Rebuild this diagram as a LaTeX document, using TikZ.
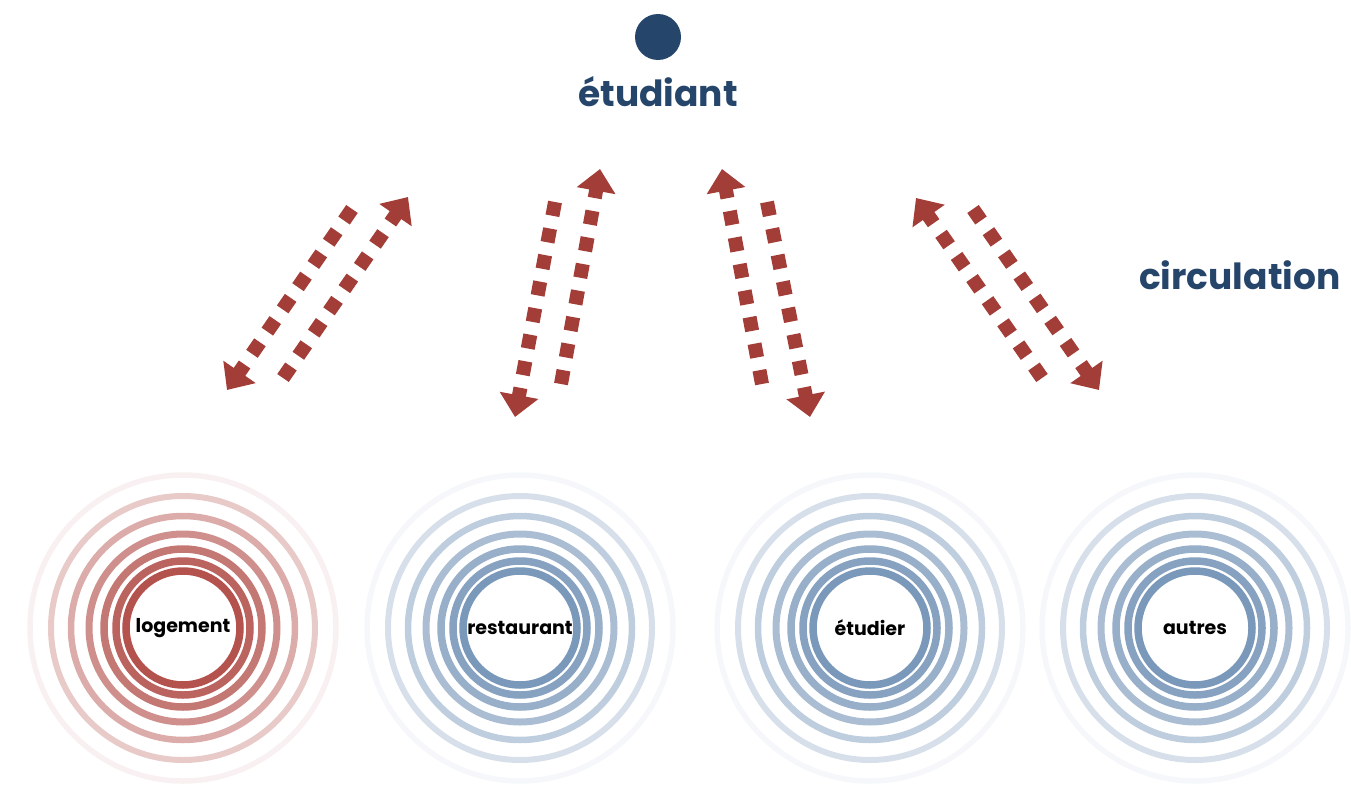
\documentclass[tikz,border=0pt]{standalone}
\usepackage{fontspec}
\setmainfont{Poppins}
\usetikzlibrary{arrows.meta}
\definecolor{navy}{RGB}{38,69,107}
\definecolor{brick}{RGB}{163,61,56}
\definecolor{rose}{RGB}{180,82,77}
\definecolor{steel}{RGB}{122,152,185}
\begin{document}
\begin{tikzpicture}[x=1pt, y=-1pt,
 flow/.style={brick, line width=14pt, dash pattern=on 14pt off 13pt, -{Triangle[width=38pt,length=22pt]}},
 title/.style={navy, font=\bfseries\fontsize{36}{42}\selectfont},
 tag/.style={font=\bfseries\fontsize{19}{22}\selectfont}]
 \useasboundingbox (0,0) rectangle (1351,784);
 \node[circle, fill=navy, minimum size=46pt, inner sep=0pt] (dot) at (658,37) {};
 \node[title] (etudiant) at (658,92) {étudiant};
 \node[title, anchor=east] (circulation) at (1344,275) {circulation};
 \coordinate (a1) at (352,209); \coordinate (b1) at (227,390);
 \coordinate (c1) at (283,378); \coordinate (d1) at (408,197);
 \coordinate (a2) at (555,202); \coordinate (b2) at (515,417);
 \coordinate (c2) at (561,384); \coordinate (d2) at (600,169);
 \coordinate (a3) at (767,202); \coordinate (b3) at (810,417);
 \coordinate (c3) at (762,384); \coordinate (d3) at (722,169);
 \coordinate (a4) at (973,209); \coordinate (b4) at (1099,390);
 \coordinate (c4) at (1042,378); \coordinate (d4) at (916,198);
 \foreach \i in {1,...,4}{
 \draw[flow] (a\i) -- (b\i);
 \draw[flow] (c\i) -- (d\i);
 }
 \foreach \cx/\col/\lab/\nm in {183/rose/logement/logement, 520/steel/restaurant/restaurant, 870/steel/étudier/etudier, 1195/steel/autres/autres}{
 \foreach \r/\w/\o in {57/7.5/1, 67/7.5/0.9, 79/7.5/0.78, 94/7/0.64, 112/6.5/0.48, 132/6/0.3, 153/5.5/0.08}
 \draw[\col, line width=\w pt, opacity=\o] (\cx,628) circle (\r);
 \node[tag] (\nm) at (\cx,628) {\lab};
 }
\end{tikzpicture}
\end{document}
